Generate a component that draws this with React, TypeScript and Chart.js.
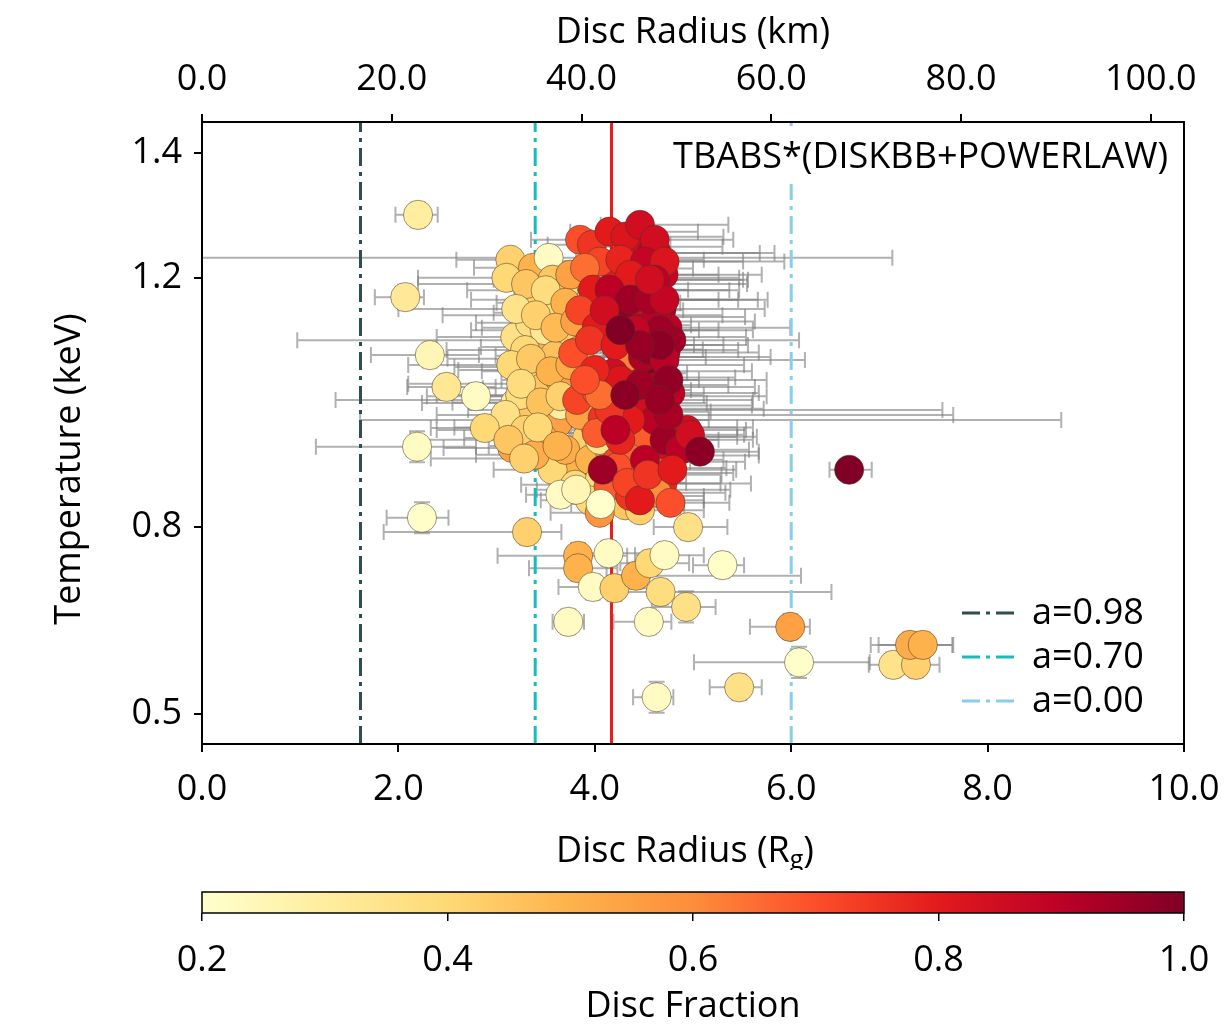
import React, { useEffect, useRef } from "react";
import { Chart, registerables } from "chart.js";

Chart.register(...registerables);

const FONT = "'Open Sans', 'Noto Sans', 'DejaVu Sans', sans-serif";
const FS = 36;

// ---------- data: central cluster, low disc fraction ----------
const A_X = [3.14, 3.37, 3.53, 3.44, 3.68, 3.62, 3.19, 3.34, 3.54, 3.47,
  3.72, 3.36, 3.46, 3.19, 3.16, 3.36, 3.62, 3.47, 3.92, 3.82,
  3.57, 3.24, 3.09, 3.29, 3.70, 3.95, 3.80, 4.05, 4.15, 4.31,
  3.95, 4.46, 3.75, 3.85, 3.65, 3.95, 3.80, 4.00, 4.15, 3.57,
  3.75, 4.03, 3.49, 3.29, 3.65, 3.39, 4.05, 4.26, 3.59, 2.88];
const A_Y = [1.229, 1.216, 1.232, 1.165, 1.177, 1.144, 1.105, 1.128, 1.089, 1.057,
  1.112, 1.052, 1.023, 0.999, 0.927, 0.988, 0.967, 0.943, 0.943, 0.900,
  0.892, 1.012, 0.980, 0.956, 0.924, 0.908, 0.868, 0.876, 0.852, 0.835,
  0.843, 0.827, 1.148, 1.084, 1.036, 0.988, 1.004, 0.964, 0.924, 1.197,
  1.205, 1.165, 1.116, 1.084, 0.996, 0.916, 0.940, 0.876, 1.075, 0.959];
const A_F = [0.42, 0.50, 0.22, 0.42, 0.38, 0.40, 0.36, 0.38, 0.50, 0.40,
  0.42, 0.42, 0.45, 0.30, 0.55, 0.45, 0.55, 0.50, 0.42, 0.50,
  0.40, 0.38, 0.36, 0.42, 0.52, 0.50, 0.40, 0.38, 0.42, 0.45,
  0.40, 0.42, 0.55, 0.55, 0.55, 0.58, 0.48, 0.60, 0.60, 0.45,
  0.55, 0.50, 0.33, 0.40, 0.30, 0.52, 0.35, 0.55, 0.46, 0.40];
const A_XLO = [0.55, 0.60, 4.00, 0.70, 0.50, 0.65, 0.80, 0.55, 0.70, 0.90,
  0.45, 0.75, 0.60, 0.95, 0.70, 0.65, 0.50, 0.80, 0.45, 0.55,
  0.60, 0.85, 0.70, 0.90, 0.50, 0.40, 0.55, 0.45, 0.40, 0.35,
  0.50, 0.35, 0.45, 0.50, 0.60, 0.45, 0.50, 0.45, 0.40, 0.60,
  0.50, 0.45, 0.75, 0.80, 0.55, 0.60, 0.40, 0.40, 0.60, 0.55];
const A_XHI = [0.45, 0.50, 3.50, 0.45, 0.60, 0.50, 0.60, 0.40, 0.55, 0.50,
  0.70, 0.45, 0.50, 0.55, 0.40, 0.60, 0.55, 0.45, 0.60, 0.50,
  0.45, 0.50, 0.55, 0.45, 0.60, 0.65, 0.70, 0.55, 0.50, 0.60,
  0.45, 0.65, 0.55, 0.60, 0.50, 0.60, 0.55, 0.50, 0.60, 0.50,
  0.55, 0.60, 0.50, 0.50, 0.60, 0.45, 0.55, 0.50, 0.50, 0.50];
const A_YE = [0.015, 0.012, 0.012, 0.015, 0.012, 0.015, 0.015, 0.012, 0.015, 0.015,
  0.012, 0.015, 0.015, 0.015, 0.015, 0.012, 0.015, 0.015, 0.012, 0.015,
  0.015, 0.015, 0.015, 0.015, 0.012, 0.015, 0.015, 0.015, 0.015, 0.015,
  0.015, 0.015, 0.012, 0.012, 0.015, 0.012, 0.015, 0.012, 0.012, 0.012,
  0.012, 0.012, 0.015, 0.015, 0.015, 0.015, 0.012, 0.015, 0.015, 0.018];

// ---------- data: hidden low-fraction points inside the cluster ----------
const E_X = [3.10, 3.30, 3.50, 3.70, 3.20, 3.40, 3.60, 3.80, 3.15, 3.35,
  3.55, 3.75, 3.25, 3.45, 3.65, 3.85, 3.12, 3.42, 3.62, 3.28];
const E_Y = [1.200, 1.190, 1.180, 1.160, 1.150, 1.140, 1.120, 1.130, 1.060, 1.070,
  1.050, 1.060, 1.030, 1.000, 1.010, 0.980, 0.940, 0.960, 0.930, 0.910];
const E_F = [0.40, 0.45, 0.38, 0.50, 0.35, 0.42, 0.48, 0.55, 0.40, 0.44,
  0.50, 0.52, 0.38, 0.46, 0.42, 0.55, 0.45, 0.40, 0.50, 0.42];
const E_XLO = [0.90, 1.10, 0.80, 0.70, 1.20, 0.95, 0.75, 0.60, 1.05, 0.85,
  0.70, 0.65, 1.15, 0.90, 0.80, 0.60, 1.00, 0.85, 0.70, 0.95];
const E_XHI = [0.50, 0.45, 0.60, 0.55, 0.40, 0.50, 0.65, 0.60, 0.45, 0.55,
  0.50, 0.70, 0.45, 0.55, 0.60, 0.50, 0.40, 0.50, 0.55, 0.45];
const E_YE = [0.012, 0.012, 0.012, 0.012, 0.012, 0.012, 0.012, 0.012, 0.012, 0.012,
  0.012, 0.012, 0.012, 0.012, 0.012, 0.012, 0.012, 0.012, 0.012, 0.012];

// ---------- data: hidden high-fraction points inside the cluster ----------
const D_X = [4.40, 4.58, 4.70, 4.20, 4.35, 4.52, 4.68, 4.12, 4.30, 4.48,
  4.64, 4.74, 4.25, 4.42, 4.60, 4.72, 4.18, 4.38, 4.55, 4.70,
  4.08, 4.28, 4.45, 4.62, 4.76, 4.33, 4.50, 4.67, 4.22, 4.44,
  4.58, 4.73, 4.14, 4.36, 4.53, 4.69, 4.27, 4.47, 4.63, 4.78];
const D_Y = [1.250, 1.240, 1.205, 1.215, 1.190, 1.180, 1.150, 1.160, 1.140, 1.130,
  1.105, 1.120, 1.085, 1.060, 1.050, 1.080, 1.020, 1.040, 1.010, 0.995,
  0.975, 0.985, 0.960, 0.990, 0.960, 0.930, 0.945, 0.915, 0.905, 0.895,
  0.870, 0.905, 0.865, 0.850, 0.860, 0.870, 1.180, 1.200, 1.240, 1.100];
const D_F = [0.85, 0.90, 0.88, 0.80, 0.92, 0.95, 0.93, 0.82, 0.97, 0.90,
  0.95, 0.90, 0.85, 0.97, 0.98, 0.92, 0.80, 0.88, 0.95, 0.93,
  0.75, 0.82, 0.90, 0.95, 0.90, 0.78, 0.88, 0.92, 0.72, 0.85,
  0.70, 0.85, 0.68, 0.75, 0.80, 0.78, 0.88, 0.92, 0.86, 0.95];
const D_XLO = [0.40, 0.35, 0.30, 0.50, 0.45, 0.40, 0.35, 0.55, 0.45, 0.40,
  0.35, 0.30, 0.50, 0.45, 0.40, 0.35, 0.55, 0.45, 0.40, 0.35,
  0.60, 0.50, 0.45, 0.40, 0.30, 0.50, 0.40, 0.35, 0.55, 0.45,
  0.40, 0.35, 0.55, 0.50, 0.40, 0.35, 0.45, 0.40, 0.35, 0.30];
const D_XHI = [0.90, 1.10, 1.00, 0.80, 1.20, 0.95, 1.05, 0.75, 1.00, 1.15,
  0.90, 1.25, 0.85, 1.10, 1.00, 0.95, 0.80, 1.05, 1.20, 0.90,
  0.70, 0.90, 1.00, 1.10, 0.85, 0.80, 0.95, 1.00, 0.75, 0.90,
  0.70, 0.80, 0.65, 0.75, 0.85, 0.90, 1.10, 1.00, 1.20, 1.30];
const D_YE = [0.012, 0.012, 0.012, 0.012, 0.012, 0.012, 0.012, 0.012, 0.012, 0.012,
  0.012, 0.012, 0.012, 0.012, 0.012, 0.012, 0.012, 0.012, 0.012, 0.012,
  0.012, 0.012, 0.012, 0.012, 0.012, 0.012, 0.012, 0.012, 0.012, 0.012,
  0.012, 0.012, 0.012, 0.012, 0.012, 0.012, 0.012, 0.012, 0.012, 0.012];

// ---------- data: central cluster, high disc fraction ----------
const B_X = [3.85, 3.97, 4.15, 4.31, 4.46, 4.61, 4.05, 4.26, 4.51, 4.71,
  3.90, 4.36, 4.61, 3.98, 3.85, 4.02, 4.28, 3.78, 3.95, 4.46,
  4.63, 4.33, 4.49, 4.19, 3.82, 4.02, 4.29, 4.49, 4.63, 4.77,
  4.02, 4.46, 4.80, 4.94, 4.33, 4.23, 4.08, 4.33, 4.66, 4.63,
  4.77, 4.46, 4.05, 4.15, 4.36, 4.56, 4.66, 4.21, 4.41, 4.56,
  4.71, 4.26, 4.46, 4.61, 4.36, 4.15, 4.71, 4.51, 4.26, 4.00,
  4.10, 4.71, 4.75, 4.87, 4.56, 4.05, 3.90, 4.21, 4.54, 4.79,
  4.97, 4.66, 4.46, 4.31, 4.75, 4.66, 4.26];
const B_Y = [1.261, 1.253, 1.274, 1.266, 1.285, 1.261, 1.226, 1.229, 1.226, 1.226,
  1.216, 1.205, 1.197, 1.181, 1.148, 1.121, 1.124, 1.079, 1.100, 1.165,
  1.137, 1.073, 1.073, 1.047, 1.004, 1.017, 0.999, 0.988, 1.025, 1.015,
  0.951, 0.940, 0.945, 0.956, 0.913, 0.896, 0.892, 0.871, 0.887, 0.855,
  0.839, 0.843, 0.823, 1.181, 1.165, 1.165, 1.116, 1.092, 1.116, 1.084,
  1.068, 1.036, 1.028, 0.972, 0.972, 0.988, 0.940, 0.908, 0.940, 1.052,
  1.148, 1.165, 0.980, 0.924, 1.197, 1.012, 1.036, 0.956, 0.884, 0.892,
  0.948, 1.092, 1.092, 1.012, 1.036, 1.004, 1.116];
const B_F = [0.70, 0.75, 0.80, 0.82, 0.85, 0.85, 0.72, 0.78, 0.88, 0.82,
  0.65, 0.80, 0.90, 0.80, 0.72, 0.80, 0.97, 0.70, 0.75, 0.85,
  0.90, 0.62, 0.92, 0.85, 0.72, 0.70, 0.68, 0.85, 0.92, 0.90,
  0.68, 0.68, 0.82, 0.85, 0.66, 0.70, 0.95, 0.72, 0.68, 0.60,
  0.70, 0.80, 0.58, 0.90, 0.95, 0.93, 0.95, 0.80, 0.88, 0.97,
  0.90, 0.82, 0.95, 0.90, 0.80, 0.75, 0.95, 0.90, 0.78, 0.78,
  0.85, 0.88, 0.93, 0.90, 0.85, 0.65, 0.70, 0.90, 0.75, 0.80,
  0.85, 0.98, 0.96, 0.98, 0.97, 0.96, 1.00];
const B_XLO = [0.50, 0.45, 0.40, 0.35, 0.40, 0.35, 0.50, 0.45, 0.40, 0.40,
  0.60, 0.45, 0.35, 0.55, 0.60, 0.50, 0.40, 0.65, 2.98, 0.40,
  0.35, 0.50, 0.40, 0.45, 2.46, 0.55, 0.45, 0.40, 0.35, 0.40,
  0.55, 0.45, 0.40, 0.45, 0.50, 0.45, 0.50, 0.45, 0.40, 0.45,
  0.40, 0.40, 0.50, 0.45, 0.40, 0.35, 0.40, 0.45, 0.40, 0.35,
  0.40, 0.45, 0.40, 0.35, 2.75, 0.50, 0.40, 0.40, 0.45, 0.55,
  0.50, 0.35, 0.35, 0.40, 0.40, 0.55, 0.60, 0.45, 0.40, 0.35,
  0.40, 0.35, 0.40, 0.45, 0.35, 0.40, 0.45];
const B_XHI = [0.70, 0.80, 0.90, 1.00, 0.90, 0.80, 0.75, 0.85, 1.00, 1.22,
  0.60, 0.90, 0.95, 0.70, 0.75, 0.80, 0.70, 0.60, 0.70, 1.00,
  0.90, 0.80, 1.30, 0.75, 0.70, 0.70, 0.85, 3.05, 1.00, 0.90,
  0.60, 0.80, 0.85, 0.60, 0.70, 0.65, 0.60, 0.60, 0.75, 0.70,
  0.60, 0.65, 0.50, 0.80, 0.90, 1.10, 0.95, 0.80, 0.85, 0.90,
  1.43, 0.80, 0.90, 4.14, 0.80, 0.70, 0.90, 0.80, 0.75, 0.70,
  0.80, 1.05, 2.90, 0.70, 0.95, 0.65, 0.60, 0.70, 0.75, 0.65,
  0.55, 0.90, 0.85, 0.80, 1.00, 0.95, 0.80];
const B_YE = [0.012, 0.012, 0.012, 0.012, 0.012, 0.012, 0.012, 0.012, 0.012, 0.012,
  0.012, 0.012, 0.012, 0.012, 0.012, 0.012, 0.012, 0.012, 0.012, 0.012,
  0.012, 0.012, 0.012, 0.012, 0.012, 0.012, 0.012, 0.012, 0.012, 0.012,
  0.012, 0.012, 0.012, 0.012, 0.012, 0.012, 0.012, 0.012, 0.012, 0.015,
  0.015, 0.015, 0.015, 0.012, 0.012, 0.012, 0.012, 0.012, 0.012, 0.012,
  0.012, 0.012, 0.012, 0.012, 0.012, 0.012, 0.012, 0.012, 0.012, 0.012,
  0.012, 0.012, 0.012, 0.012, 0.012, 0.012, 0.012, 0.012, 0.012, 0.012,
  0.012, 0.012, 0.012, 0.012, 0.012, 0.012, 0.012];

// ---------- data: scattered observations ----------
const C_X = [2.20, 2.07, 2.32, 2.49, 2.79, 2.19, 2.24, 3.31, 3.83, 3.83,
  4.14, 3.98, 4.20, 4.42, 4.67, 4.56, 4.71, 4.93, 4.55, 3.73,
  5.30, 4.63, 5.47, 5.99, 6.08, 7.04, 7.27, 7.21, 7.34, 6.59,
  5.07, 4.06, 3.65, 4.95, 3.81];
const C_Y = [1.301, 1.169, 1.076, 1.025, 1.010, 0.929, 0.815, 0.792, 0.754, 0.734,
  0.758, 0.704, 0.702, 0.722, 0.696, 0.742, 0.755, 0.672, 0.648, 0.648,
  0.739, 0.527, 0.543, 0.640, 0.583, 0.579, 0.579, 0.611, 0.611, 0.892,
  0.921, 0.837, 0.852, 0.800, 0.860];
const C_F = [0.30, 0.32, 0.25, 0.33, 0.22, 0.22, 0.21, 0.42, 0.50, 0.50,
  0.22, 0.22, 0.42, 0.50, 0.38, 0.40, 0.22, 0.36, 0.22, 0.22,
  0.21, 0.22, 0.36, 0.55, 0.21, 0.35, 0.42, 0.52, 0.50, 1.00,
  0.98, 0.20, 0.22, 0.36, 0.25];
const C_XLO = [0.23, 0.31, 0.60, 0.40, 0.50, 1.03, 0.36, 1.46, 0.82, 0.50,
  0.30, 0.35, 0.30, 0.30, 0.50, 0.30, 0.30, 0.35, 0.36, 0.16,
  0.30, 0.24, 0.30, 0.41, 1.07, 0.25, 0.30, 0.40, 0.45, 0.20,
  0.30, 0.30, 0.35, 0.35, 0.40];
const C_XHI = [0.20, 0.19, 0.50, 0.50, 0.60, 0.60, 0.27, 0.35, 0.50, 0.40,
  0.60, 0.30, 0.40, 1.68, 1.74, 0.40, 0.40, 0.30, 0.23, 0.16,
  0.22, 0.17, 0.23, 0.20, 0.72, 0.30, 0.24, 0.44, 0.30, 0.23,
  0.60, 0.40, 0.40, 0.40, 0.40];
const C_YE = [0.020, 0.020, 0.020, 0.020, 0.020, 0.025, 0.025, 0.020, 0.020, 0.020,
  0.020, 0.020, 0.020, 0.020, 0.020, 0.020, 0.020, 0.025, 0.020, 0.020,
  0.020, 0.025, 0.020, 0.020, 0.025, 0.020, 0.020, 0.020, 0.020, 0.015,
  0.015, 0.020, 0.020, 0.020, 0.020];

// ---------- axes, reference lines, labels ----------
const X_RANGE = [0, 10];
const Y_RANGE = [0.452, 1.45];
const KM_RANGE = [0, 103.5];
const X_TICKS = [0, 2, 4, 6, 8, 10];
const KM_TICKS = [0, 20, 40, 60, 80, 100];
const Y_TICKS = [0.5, 0.8, 1.2, 1.4];
const CB_RANGE = [0.2, 1.0];
const CB_TICKS = [0.2, 0.4, 0.6, 0.8, 1.0];
const SPIN_LABELS = ["a=0.98", "a=0.70", "a=0.00"];
const SPIN_RADII = [1.614, 3.393, 6.0];
const SPIN_COLORS = ["#2f4f4f", "#17bdbd", "#87ceeb"];
const MEAN_RADIUS = 4.17;
const MEAN_COLOR = "#ee1b1b";
const MODEL_LABEL = "TBABS*(DISKBB+POWERLAW)";
const Y_TITLE = "Temperature (keV)";

const YLORRD = ["#ffffcc", "#ffeda0", "#fed976", "#feb24c", "#fd8d3c", "#fc4e2a", "#e31a1c", "#bd0026", "#800026"];

function hexToRgb(h: string) {
  const n = parseInt(h.slice(1), 16);
  return [(n >> 16) & 255, (n >> 8) & 255, n & 255];
}
function cmap(v: number) {
  let t = (v - CB_RANGE[0]) / (CB_RANGE[1] - CB_RANGE[0]);
  t = Math.max(0, Math.min(1, t));
  const p = t * (YLORRD.length - 1);
  const i = Math.min(YLORRD.length - 2, Math.floor(p));
  const f = p - i;
  const a = hexToRgb(YLORRD[i]);
  const b = hexToRgb(YLORRD[i + 1]);
  const c = a.map((av, k) => Math.round(av + (b[k] - av) * f));
  return `rgb(${c[0]},${c[1]},${c[2]})`;
}

const PX = [...A_X, ...E_X, ...D_X, ...B_X, ...C_X];
const PY = [...A_Y, ...E_Y, ...D_Y, ...B_Y, ...C_Y];
const PF = [...A_F, ...E_F, ...D_F, ...B_F, ...C_F];
const PXLO = [...A_XLO, ...E_XLO, ...D_XLO, ...B_XLO, ...C_XLO];
const PXHI = [...A_XHI, ...E_XHI, ...D_XHI, ...B_XHI, ...C_XHI];
const PYE = [...A_YE, ...E_YE, ...D_YE, ...B_YE, ...C_YE];

const fmt1 = (v: any) => Number(v).toFixed(1);
const tickFont = { family: FONT, size: FS };

const errorBarPlugin = {
  id: "errorBars",
  beforeDatasetsDraw(chart: any) {
    const { ctx, chartArea: a, scales } = chart;
    const xs = scales.x;
    const ys = scales.y;
    ctx.save();
    ctx.beginPath();
    ctx.rect(a.left, a.top, a.right - a.left, a.bottom - a.top);
    ctx.clip();
    ctx.strokeStyle = "rgba(125,125,125,0.6)";
    ctx.lineWidth = 2;
    const cap = 8;
    for (let i = 0; i < PX.length; i++) {
      const cx = xs.getPixelForValue(PX[i]);
      const cy = ys.getPixelForValue(PY[i]);
      const l = xs.getPixelForValue(PX[i] - PXLO[i]);
      const r = xs.getPixelForValue(PX[i] + PXHI[i]);
      const t = ys.getPixelForValue(PY[i] + PYE[i]);
      const b = ys.getPixelForValue(PY[i] - PYE[i]);
      ctx.beginPath();
      ctx.moveTo(l, cy); ctx.lineTo(r, cy);
      ctx.moveTo(l, cy - cap); ctx.lineTo(l, cy + cap);
      ctx.moveTo(r, cy - cap); ctx.lineTo(r, cy + cap);
      ctx.moveTo(cx, t); ctx.lineTo(cx, b);
      ctx.moveTo(cx - cap, t); ctx.lineTo(cx + cap, t);
      ctx.moveTo(cx - cap, b); ctx.lineTo(cx + cap, b);
      ctx.stroke();
    }
    ctx.restore();
  },
};

const annotPlugin = {
  id: "annot",
  afterDatasetsDraw(chart: any) {
    const { ctx, chartArea: a } = chart;
    ctx.save();
    ctx.font = `${FS}px ${FONT}`;
    const w = ctx.measureText(MODEL_LABEL).width;
    const tr = a.right - 16;
    ctx.fillStyle = "#ffffff";
    ctx.fillRect(tr - w - 8, a.top + 4, w + 16, 58);
    ctx.fillStyle = "#000";
    ctx.textAlign = "right";
    ctx.textBaseline = "middle";
    ctx.fillText(MODEL_LABEL, tr, a.top + 36);
    const items = chart.data.datasets.filter((d: any) => d.inLegend);
    const boxL = a.right - 229;
    const boxT = a.bottom - 154;
    ctx.fillStyle = "rgba(255,255,255,0.8)";
    ctx.fillRect(boxL, boxT, 222, 140);
    items.forEach((d: any, i: number) => {
      const yy = a.bottom - 131 + i * 44;
      ctx.strokeStyle = d.borderColor;
      ctx.lineWidth = d.borderWidth;
      ctx.setLineDash(d.borderDash || []);
      ctx.beginPath();
      ctx.moveTo(boxL + 7, yy);
      ctx.lineTo(boxL + 65, yy);
      ctx.stroke();
      ctx.setLineDash([]);
      ctx.fillStyle = "#000";
      ctx.textAlign = "left";
      ctx.textBaseline = "middle";
      ctx.fillText(d.label, boxL + 77, yy + 1);
    });
    ctx.restore();
  },
  afterDraw(chart: any) {
    const { ctx, chartArea: a } = chart;
    ctx.save();
    ctx.strokeStyle = "#000";
    ctx.lineWidth = 2;
    ctx.strokeRect(a.left, a.top, a.right - a.left, a.bottom - a.top);
    const big = `${FS}px ${FONT}`;
    const small = `${Math.round(FS * 0.7)}px ${FONT}`;
    ctx.font = big;
    ctx.fillStyle = "#000";
    ctx.translate(70, (a.top + a.bottom) / 2 + 36);
    ctx.rotate(-Math.PI / 2);
    ctx.textAlign = "center";
    ctx.textBaseline = "middle";
    ctx.fillText(Y_TITLE, 0, 0);
    ctx.setTransform(1, 0, 0, 1, 0, 0);
    ctx.restore();
    ctx.save();
    const p1 = "Disc Radius (R";
    const p2 = "g";
    const p3 = ")";
    ctx.font = big;
    const w1 = ctx.measureText(p1).width;
    const w3 = ctx.measureText(p3).width;
    ctx.font = small;
    const w2 = ctx.measureText(p2).width;
    const total = w1 + w2 + w3;
    const cx = (a.left + a.right) / 2 - 8;
    const base = a.bottom + 118;
    let x0 = cx - total / 2;
    ctx.fillStyle = "#000";
    ctx.textAlign = "left";
    ctx.textBaseline = "alphabetic";
    ctx.font = big;
    ctx.fillText(p1, x0, base);
    x0 += w1;
    ctx.font = small;
    ctx.fillText(p2, x0, base + 6);
    x0 += w2;
    ctx.font = big;
    ctx.fillText(p3, x0, base);
    ctx.restore();
  },
};

const noHPad = (h: number) => (s: any) => { s.height = h; s.paddingLeft = 0; s.paddingRight = 0; };

function mainConfig(): any {
  const lineSets = SPIN_RADII.map((r, i) => ({
    type: "line",
    label: SPIN_LABELS[i],
    inLegend: true,
    data: [{ x: r, y: Y_RANGE[0] }, { x: r, y: Y_RANGE[1] }],
    borderColor: SPIN_COLORS[i],
    borderWidth: 3,
    borderDash: [18, 6, 4, 6],
    pointRadius: 0,
    fill: false,
    order: 2,
  }));
  const meanSet = {
    type: "line",
    label: "mean",
    data: [{ x: MEAN_RADIUS, y: Y_RANGE[0] }, { x: MEAN_RADIUS, y: Y_RANGE[1] }],
    borderColor: MEAN_COLOR,
    borderWidth: 3,
    pointRadius: 0,
    fill: false,
    order: 2,
  };
  const scatterSet = {
    type: "scatter",
    label: "obs",
    data: PX.map((x, i) => ({ x, y: PY[i] })),
    pointRadius: 14.6,
    pointBackgroundColor: PF.map(cmap),
    pointBorderColor: "rgba(70,55,40,0.65)",
    pointBorderWidth: 0.8,
    order: 1,
  };
  const gridTicks = {
    display: true,
    drawOnChartArea: false,
    drawTicks: true,
    tickLength: 8,
    tickWidth: 2,
    color: "#000",
    lineWidth: 2,
  };
  const border = { display: true, color: "#000", width: 2 };
  return {
    type: "scatter",
    data: { datasets: [...lineSets, meanSet, scatterSet] },
    options: {
      responsive: true,
      maintainAspectRatio: false,
      animation: false,
      events: [],
      layout: { padding: { left: 0, right: 40, top: 0, bottom: 0 } },
      plugins: { legend: { display: false }, tooltip: { enabled: false } },
      scales: {
        x: {
          type: "linear",
          position: "bottom",
          min: X_RANGE[0],
          max: X_RANGE[1],
          afterBuildTicks: (s: any) => { s.ticks = X_TICKS.map((v) => ({ value: v })); },
          ticks: { callback: fmt1, font: tickFont, color: "#000", padding: 16, maxRotation: 0, autoSkip: false },
          grid: gridTicks,
          border,
          afterFit: noHPad(126),
        },
        x2: {
          type: "linear",
          position: "top",
          min: KM_RANGE[0],
          max: KM_RANGE[1],
          afterBuildTicks: (s: any) => { s.ticks = KM_TICKS.map((v) => ({ value: v })); },
          ticks: { callback: fmt1, font: tickFont, color: "#000", padding: 13, maxRotation: 0, autoSkip: false },
          grid: gridTicks,
          border,
          title: { display: true, text: "Disc Radius (km)", font: { family: FONT, size: FS }, color: "#000", padding: { top: 11, bottom: 0 } },
          afterFit: noHPad(122),
        },
        y: {
          type: "linear",
          position: "left",
          min: Y_RANGE[0],
          max: Y_RANGE[1],
          afterBuildTicks: (s: any) => { s.ticks = Y_TICKS.map((v) => ({ value: v })); },
          ticks: { callback: fmt1, font: tickFont, color: "#000", padding: 12, autoSkip: false },
          grid: gridTicks,
          border,
          afterFit: (s: any) => { s.width = 202; s.paddingTop = 0; s.paddingBottom = 0; },
        },
      },
    },
    plugins: [errorBarPlugin, annotPlugin],
  };
}

const colorbarPlugin = {
  id: "colorbarFill",
  beforeDatasetsDraw(chart: any) {
    const { ctx, chartArea: a } = chart;
    ctx.save();
    const g = ctx.createLinearGradient(a.left, 0, a.right, 0);
    YLORRD.forEach((c, i) => g.addColorStop(i / (YLORRD.length - 1), c));
    ctx.fillStyle = g;
    ctx.fillRect(a.left, a.top, a.right - a.left, a.bottom - a.top);
    ctx.strokeStyle = "#000";
    ctx.lineWidth = 1.5;
    ctx.strokeRect(a.left, a.top, a.right - a.left, a.bottom - a.top);
    ctx.restore();
  },
};

function cbConfig(): any {
  return {
    type: "scatter",
    data: { datasets: [] },
    options: {
      responsive: true,
      maintainAspectRatio: false,
      animation: false,
      events: [],
      layout: { padding: { left: 202, right: 40, top: 22, bottom: 0 } },
      plugins: { legend: { display: false }, tooltip: { enabled: false } },
      scales: {
        x: {
          type: "linear",
          position: "bottom",
          min: CB_RANGE[0],
          max: CB_RANGE[1],
          afterBuildTicks: (s: any) => { s.ticks = CB_TICKS.map((v) => ({ value: v })); },
          ticks: { callback: fmt1, font: tickFont, color: "#000", padding: 18, maxRotation: 0, autoSkip: false },
          grid: { display: true, drawOnChartArea: false, drawTicks: true, tickLength: 8, tickWidth: 1.5, color: "#000", lineWidth: 1.5 },
          border: { display: false },
          title: { display: true, text: "Disc Fraction", font: { family: FONT, size: FS }, color: "#000", padding: { top: 0, bottom: 4 } },
          afterFit: noHPad(119),
        },
        y: { display: false, min: 0, max: 1 },
      },
    },
    plugins: [colorbarPlugin],
  };
}

export default function App() {
  const mainRef = useRef<HTMLCanvasElement>(null);
  const cbRef = useRef<HTMLCanvasElement>(null);
  useEffect(() => {
    const main = new Chart(mainRef.current as HTMLCanvasElement, mainConfig());
    const cb = new Chart(cbRef.current as HTMLCanvasElement, cbConfig());
    return () => {
      main.destroy();
      cb.destroy();
    };
  }, []);
  return (
    <div style={{ position: "absolute", left: 0, top: 0, width: 1224, height: 1032, background: "#fff" }}>
      <div style={{ position: "absolute", left: 0, top: 0, width: 1224, height: 870 }}>
        <canvas ref={mainRef} />
      </div>
      <div style={{ position: "absolute", left: 0, top: 870, width: 1224, height: 162 }}>
        <canvas ref={cbRef} />
      </div>
    </div>
  );
}
